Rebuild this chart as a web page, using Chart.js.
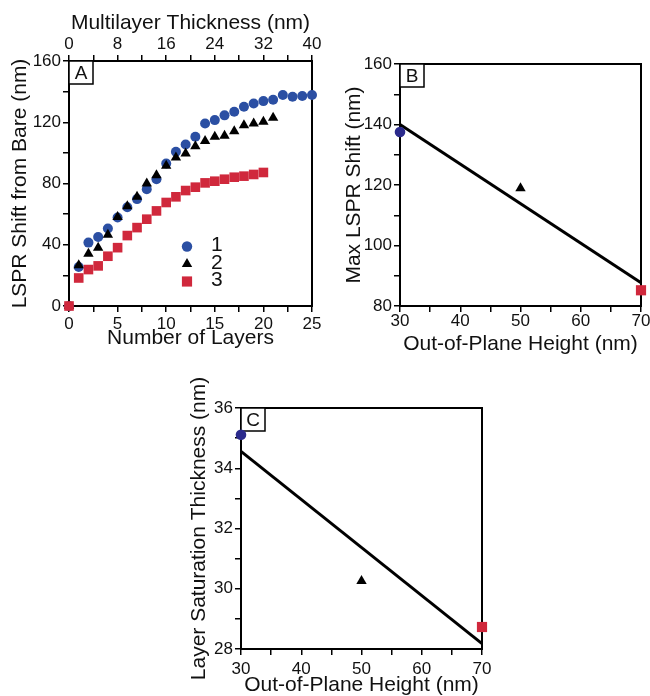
<!DOCTYPE html>
<html>
<head>
<meta charset="utf-8">
<script src="https://cdn.jsdelivr.net/npm/chart.js@4.4.1/dist/chart.umd.min.js"></script>
<style>
  body { margin: 0; background: #fff; width: 650px; height: 696px; position: relative; overflow: hidden; }
  .panel { position: absolute; }
</style>
</head>
<body>
<div class="panel" style="left:0;top:0"><canvas id="chartA" width="330" height="354"></canvas></div>
<div class="panel" style="left:330px;top:40px"><canvas id="chartB" width="320" height="320"></canvas></div>
<div class="panel" style="left:170px;top:360px"><canvas id="chartC" width="332" height="344"></canvas></div>
<script>
// Panel A - shift vs number of layers
const layers = [0, 1, 2, 3, 4, 5, 6, 7, 8, 9, 10, 11, 12, 13, 14, 15, 16, 17, 18, 19, 20, 21, 22, 23, 24, 25];
const shift1 = [0, 25.5, 41.4, 45.1, 50.6, 57.8, 64.5, 69.8, 76.3, 82.8, 93.1, 100.7, 105.5, 110.5, 119.2, 121.4, 124.5, 126.9, 130.1, 132.3, 133.8, 134.7, 137.8, 136.7, 137.1, 137.8];
const shift2 = [0, 26.6, 34.2, 38.1, 46.6, 58.2, 65.2, 71.3, 80.0, 85.4, 91.6, 97.0, 99.6, 104.4, 107.7, 110.5, 111.2, 114.2, 118.1, 119.2, 120.3, 122.9];
const shift3 = [0, 18.3, 23.8, 26.2, 32.5, 38.1, 46.0, 51.2, 56.7, 62.1, 67.6, 71.3, 75.4, 77.6, 80.4, 81.5, 82.8, 84.1, 84.8, 85.9, 87.2];
const seriesNames = ['1', '2', '3'];

// Panels B and C - vs out-of-plane height
const heights = [30, 50, 70];
const maxShift = [137.5, 118.9, 85.2];
const satThickness = [35.11, 30.26, 28.73];
// fitted lines read at the ends of the axis
const fitHeights = [30, 70];
const maxShiftFit = [140.0, 87.7];
const satFit = [34.56, 28.18];

const BLUE_A = '#2b4fa3';
const BLUE_BC = '#2b2a8c';
const RED = '#d0283c';
const BLACK = '#000';
const FONT = '"Liberation Sans", Arial, sans-serif';

Chart.defaults.font.family = FONT;
Chart.defaults.color = '#111';
Chart.defaults.animation = false;

const toPoints = (xs, ys) => ys.map((y, i) => ({ x: xs[i], y: y }));

function axis(o) {
  return {
    type: 'linear',
    position: o.position,
    min: o.min,
    max: o.max,
    afterFit: s => {
      if (o.position === 'left') s.width = o.size;
      else s.height = o.size;
    },
    grid: { display: true, drawOnChartArea: false, drawTicks: true, tickLength: 6, color: BLACK, lineWidth: 1.5 },
    border: { display: true, color: BLACK, width: 2 },
    ticks: {
      stepSize: o.step,
      autoSkip: false,
      maxRotation: 0,
      padding: o.tickPad == null ? 2 : o.tickPad,
      color: '#111',
      font: { size: 17 },
      callback: v => (Math.abs(v / o.label - Math.round(v / o.label)) < 1e-6 ? Math.round(v) : '')
    },
    title: { display: true, text: o.title, color: '#111', font: { size: 21 }, padding: o.titlePad || 0 }
  };
}

// box round the plot area plus the panel letter
function framePlugin(letter) {
  return {
    id: 'frame' + letter,
    beforeDatasetsDraw(chart) {
      const { ctx, chartArea: a } = chart;
      ctx.save();
      ctx.strokeStyle = BLACK;
      ctx.lineWidth = 2;
      ctx.strokeRect(a.left, a.top, a.right - a.left, a.bottom - a.top);
      ctx.fillStyle = '#fff';
      ctx.fillRect(a.left, a.top, 24, 23);
      ctx.lineWidth = 1.5;
      ctx.strokeRect(a.left, a.top, 24, 23);
      ctx.fillStyle = '#111';
      ctx.font = '19px ' + FONT;
      ctx.textAlign = 'center';
      ctx.textBaseline = 'middle';
      ctx.fillText(letter, a.left + 12, a.top + 12.5);
      ctx.restore();
    }
  };
}

// legend of panel A, drawn inside the plot
const legendA = {
  id: 'legendA',
  afterDatasetsDraw(chart) {
    const { ctx, chartArea: a } = chart;
    const marks = [
      { pointStyle: 'circle', radius: 5.2, color: BLUE_A },
      { pointStyle: 'triangle', radius: 6, color: BLACK },
      { pointStyle: 'rect', radius: 7.2, color: RED }
    ];
    ctx.save();
    marks.forEach((m, i) => {
      const y = a.top + 185.5 + i * 17.5;
      ctx.fillStyle = m.color;
      Chart.helpers.drawPoint(ctx, { pointStyle: m.pointStyle, radius: m.radius, rotation: 0, borderWidth: 0 }, a.left + 118, y);
      ctx.fillStyle = '#111';
      ctx.font = '21px ' + FONT;
      ctx.textAlign = 'left';
      ctx.textBaseline = 'middle';
      ctx.fillText(seriesNames[i], a.left + 142, y - 1);
    });
    ctx.restore();
  }
};

const baseOptions = {
  responsive: false,
  events: [],
  plugins: { legend: { display: false }, tooltip: { enabled: false } }
};

new Chart(document.getElementById('chartA'), {
  type: 'scatter',
  data: {
    datasets: [
      { label: seriesNames[0], data: toPoints(layers, shift1), pointStyle: 'circle', pointRadius: 5, backgroundColor: BLUE_A, borderWidth: 0, order: 3, clip: false },
      { label: seriesNames[1], data: toPoints(layers, shift2), pointStyle: 'triangle', pointRadius: 6, backgroundColor: BLACK, borderWidth: 0, order: 2, clip: false },
      { label: seriesNames[2], data: toPoints(layers, shift3), pointStyle: 'rect', pointRadius: 6.8, backgroundColor: RED, borderWidth: 0, order: 1, clip: false }
    ]
  },
  options: Object.assign({}, baseOptions, {
    layout: { padding: { left: 0, right: 18, top: 0, bottom: 0 } },
    scales: {
      x: axis({ position: 'bottom', min: 0, max: 25, step: 2.5, label: 5, size: 48, title: 'Number of Layers', titlePad: { top: 0, bottom: 3 } }),
      xTop: axis({ position: 'top', min: 0, max: 40, step: 4, label: 8, size: 61, tickPad: 0, title: 'Multilayer Thickness (nm)', titlePad: { top: 11, bottom: 0 } }),
      y: axis({ position: 'left', min: 0, max: 160, step: 20, label: 40, size: 69, title: 'LSPR Shift from Bare (nm)', titlePad: { top: 8, bottom: 0 } })
    }
  }),
  plugins: [framePlugin('A'), legendA]
});

function heightChart(id, values, fit, yOpts, xOpts, pad, letter) {
  return new Chart(document.getElementById(id), {
    type: 'scatter',
    data: {
      datasets: [
        {
          data: toPoints(heights, values),
          pointStyle: ['circle', 'triangle', 'rect'],
          pointRadius: [5.3, 6, 7.2],
          backgroundColor: [BLUE_BC, BLACK, RED],
          borderWidth: 0,
          clip: false
        },
        {
          type: 'line',
          data: toPoints(fitHeights, fit),
          borderColor: BLACK,
          borderWidth: 3,
          pointRadius: 0,
          fill: false,
          clip: false
        }
      ]
    },
    options: Object.assign({}, baseOptions, {
      layout: { padding: pad },
      scales: {
        x: axis(Object.assign({ position: 'bottom', min: 30, max: 70, step: 5, label: 10, title: 'Out-of-Plane Height (nm)' }, xOpts)),
        y: axis(Object.assign({ position: 'left' }, yOpts))
      }
    }),
    plugins: [framePlugin(letter)]
  });
}

heightChart('chartB', maxShift, maxShiftFit,
  { min: 80, max: 160, step: 10, label: 20, size: 70, title: 'Max LSPR Shift (nm)', titlePad: { top: 12, bottom: 0 } },
  { size: 54, tickPad: -1, titlePad: { top: 0, bottom: 3 } },
  { left: 0, right: 9, top: 24, bottom: 0 }, 'B');

heightChart('chartC', satThickness, satFit,
  { min: 28, max: 36, step: 1, label: 2, size: 71, title: 'Layer Saturation Thickness (nm)', titlePad: { top: 17, bottom: 0 } },
  { size: 55, tickPad: 4, titlePad: { top: 0, bottom: 6 } },
  { left: 0, right: 20, top: 48, bottom: 0 }, 'C');
</script>
</body>
</html>
